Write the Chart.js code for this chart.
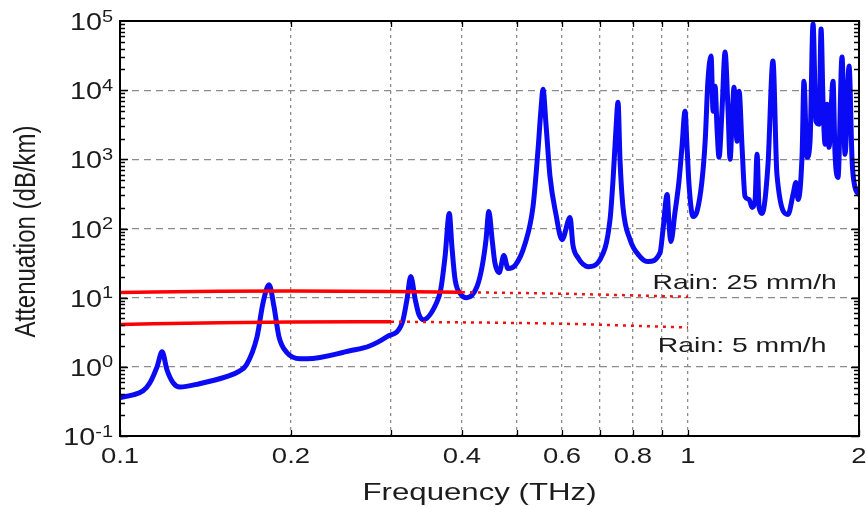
<!DOCTYPE html>
<html>
<head>
<meta charset="utf-8">
<script src="https://cdn.jsdelivr.net/npm/chart.js@4.4.1/dist/chart.umd.min.js"></script>
<style>
  html, body { margin: 0; padding: 0; background: #fff; }
  #wrap { width: 866px; height: 507px; }
</style>
</head>
<body>
<div id="wrap"><canvas id="myChart" width="866" height="507"></canvas></div>
<script>
"use strict";
{
    // atmospheric attenuation (THz, dB/km)
    const freqTHz = [
        0.1, 0.105, 0.1098, 0.1129, 0.1162, 0.1186, 0.121, 0.124, 0.1275, 0.138, 0.154,
        0.162, 0.167, 0.1743, 0.1786, 0.183, 0.1867, 0.1905, 0.1968, 0.2075, 0.2135, 0.254,
        0.275, 0.295, 0.314, 0.320, 0.325, 0.331, 0.336, 0.342, 0.361, 0.367,
        0.3735, 0.380, 0.384, 0.389, 0.3985, 0.408, 0.425, 0.434, 0.441, 0.446,
        0.452, 0.457, 0.465, 0.474, 0.482, 0.496, 0.516, 0.5335, 0.5445, 0.551,
        0.5555, 0.5623, 0.5715, 0.5855, 0.600, 0.620, 0.627, 0.640, 0.667, 0.700,
        0.729, 0.738, 0.7467, 0.753, 0.759, 0.768, 0.7905, 0.823, 0.8506, 0.893,
        0.9036, 0.919, 0.926, 0.933, 0.9485, 0.964, 0.976, 0.988, 0.996, 1.004,
        1.0205, 1.037, 1.058, 1.072, 1.084, 1.098, 1.107, 1.116, 1.125, 1.134,
        1.148, 1.162, 1.176, 1.186, 1.196, 1.205, 1.220, 1.230, 1.245, 1.260,
        1.281, 1.297, 1.312, 1.323, 1.334, 1.350, 1.383, 1.411, 1.434, 1.500,
        1.531, 1.549, 1.562, 1.588, 1.600, 1.620, 1.640, 1.660, 1.680, 1.701,
        1.715, 1.729, 1.743, 1.757, 1.771, 1.800, 1.815, 1.837, 1.867, 1.890,
        1.921, 1.945, 1.968, 2.0
    ];
    const attenDbKm = [
        0.36, 0.39, 0.45, 0.59, 1.0, 1.65, 0.9, 0.59, 0.51, 0.57, 0.72,
        0.86, 1.07, 2.72, 8.47, 15.4, 7.4, 2.72, 1.6, 1.31, 1.31, 1.71,
        2.0, 2.72, 4.34, 9.35, 20.2, 9.35, 5.67, 4.8, 8.5, 13.1,
        39.3, 165, 54.8, 18.2, 11.1, 10, 14.4, 28.1, 69.3, 176,
        69.3, 32.2, 23, 40.6, 26.3, 29.1, 58.6, 208, 1400, 5300,
        10300, 3220, 567, 160, 69, 144, 58.6, 38, 28.1, 35.5,
        135, 513, 2720, 6700, 1000, 208, 69.3, 39.3, 33.2, 44.9,
        96.8, 311, 114, 64.8, 171, 480, 1540, 4960, 1540, 434,
        149, 176, 480, 1820, 13500, 31100, 4960, 11400, 2720, 1070,
        5300, 35500, 5300, 1000, 3800, 11000, 1820, 9680, 1490, 291,
        263, 202, 246, 1180, 202, 165, 847, 26300, 606, 160,
        311, 464, 263, 1180, 13500, 1070, 1820, 90500, 3550, 3220,
        76500, 6270, 1650, 6270, 1490, 13500, 1180, 548, 30100, 1180,
        22300, 935, 393, 311
    ];

    // rain attenuation
    const rain25Freq = [0.1, 0.15, 0.2, 0.3, 0.4];
    const rain25Solid = [11.9, 12.4, 12.5, 12.3, 12.0];
    const rain25DotFreq = [0.4, 0.6, 1.0];
    const rain25Dot = [12.0, 11.4, 10.3];
    const rain5Freq = [0.1, 0.15, 0.2, 0.3];
    const rain5Solid = [4.1, 4.35, 4.45, 4.5];
    const rain5DotFreq = [0.3, 0.6, 1.0];
    const rain5Dot = [4.5, 4.2, 3.7];

    // axes
    const xTickVals = [0.1, 0.2, 0.3, 0.4, 0.5, 0.6, 0.7, 0.8, 0.9, 1, 2];
    const xLabelVals = [0.1, 0.2, 0.4, 0.6, 0.8, 1, 2];
    const xLabels = ['0.1', '0.2', '0.4', '0.6', '0.8', '1', '2'];
    const yExponents = [-1, 0, 1, 2, 3, 4, 5];

    const FONT = "'Liberation Sans', Arial, Helvetica, sans-serif";
    const GRID = '#8c8c8c';

    const toPts = (xs, ys) => xs.map((x, i) => ({ x: x, y: ys[i] }));

    function stretchText(ctx, text, px, py, sx, align) {
        ctx.save();
        ctx.translate(px, py);
        ctx.scale(sx, 1);
        ctx.textAlign = align;
        ctx.textBaseline = 'alphabetic';
        ctx.fillText(text, 0, 0);
        ctx.restore();
    }

    const axesPlugin = {
        id: 'matlabAxes',
        afterDraw(chart) {
            const ctx = chart.ctx;
            const a = chart.chartArea;
            const xs = chart.scales.x;
            const ys = chart.scales.y;
            ctx.save();

            // box
            ctx.strokeStyle = '#000';
            ctx.lineWidth = 2;
            ctx.strokeRect(a.left, a.top, a.right - a.left, a.bottom - a.top);

            // tick marks
            ctx.lineWidth = 1.3;
            ctx.beginPath();
            for (let d = -1; d < 5; d++) {
                for (let m = 1; m < 10; m++) {
                    const py = Math.round(ys.getPixelForValue(m * Math.pow(10, d))) + 0.5;
                    const len = m === 1 ? 8 : 5;
                    ctx.moveTo(a.left, py); ctx.lineTo(a.left + len, py);
                    ctx.moveTo(a.right, py); ctx.lineTo(a.right - len, py);
                }
            }
            xTickVals.forEach(v => {
                const px = Math.round(xs.getPixelForValue(v)) + 0.5;
                ctx.moveTo(px, a.bottom); ctx.lineTo(px, a.bottom - 6);
                ctx.moveTo(px, a.top); ctx.lineTo(px, a.top + 6);
            });
            ctx.stroke();

            ctx.fillStyle = '#1c1c1c';

            // x tick labels
            ctx.font = '22px ' + FONT;
            xLabelVals.forEach((v, i) => {
                stretchText(ctx, xLabels[i], xs.getPixelForValue(v), a.bottom + 27, 1.25, 'center');
            });

            // y tick labels 10^n
            const sx = 1.25;
            yExponents.forEach(n => {
                const py = ys.getPixelForValue(Math.pow(10, n));
                const ex = String(n);
                ctx.font = '23px ' + FONT;
                const wMain = ctx.measureText('10').width * sx;
                ctx.font = '16px ' + FONT;
                const wExp = ctx.measureText(ex).width * sx;
                const start = a.left - 7 - wMain - wExp;
                ctx.font = '23px ' + FONT;
                stretchText(ctx, '10', start, py + 9, sx, 'left');
                ctx.font = '16px ' + FONT;
                stretchText(ctx, ex, start + wMain, py + 0.5, sx, 'left');
            });

            // axis titles
            ctx.font = '24px ' + FONT;
            stretchText(ctx, 'Frequency (THz)', (a.left + a.right) / 2 - 10, a.bottom + 64, 1.3, 'center');
            ctx.save();
            ctx.translate(35, (a.top + a.bottom) / 2 + 3);
            ctx.rotate(-Math.PI / 2);
            ctx.scale(1, 1.25);
            ctx.textAlign = 'center';
            ctx.textBaseline = 'alphabetic';
            ctx.fillText('Attenuation (dB/km)', 0, 0);
            ctx.restore();

            // annotations
            ctx.font = '21px ' + FONT;
            stretchText(ctx, 'Rain: 25 mm/h', xs.getPixelForValue(0.866), ys.getPixelForValue(13.5), 1.35, 'left');
            stretchText(ctx, 'Rain: 5 mm/h', xs.getPixelForValue(0.885), ys.getPixelForValue(1.65), 1.35, 'left');

            ctx.restore();
        }
    };

    function gridColor(ends) {
        return c => (c.tick && ends.includes(c.tick.value)) ? 'rgba(0,0,0,0)' : GRID;
    }

    window.addEventListener('load', function () {
        const ctx = document.getElementById('myChart');
        const config = {
            type: 'line',
            data: {
                datasets: [{
                    label: 'Rain 25 mm/h',
                    data: toPts(rain25Freq, rain25Solid),
                    borderColor: '#ff0000',
                    borderWidth: 3.5,
                    pointRadius: 0,
                    cubicInterpolationMode: 'monotone'
                }, {
                    label: 'Rain 25 mm/h (extrapolated)',
                    data: toPts(rain25DotFreq, rain25Dot),
                    borderColor: '#f01010',
                    borderWidth: 2.5,
                    borderDash: [3, 5],
                    pointRadius: 0,
                    cubicInterpolationMode: 'monotone'
                }, {
                    label: 'Rain 5 mm/h',
                    data: toPts(rain5Freq, rain5Solid),
                    borderColor: '#ff0000',
                    borderWidth: 3.5,
                    pointRadius: 0,
                    cubicInterpolationMode: 'monotone'
                }, {
                    label: 'Rain 5 mm/h (extrapolated)',
                    data: toPts(rain5DotFreq, rain5Dot),
                    borderColor: '#f01010',
                    borderWidth: 2.5,
                    borderDash: [3, 5],
                    pointRadius: 0,
                    cubicInterpolationMode: 'monotone'
                }, {
                    label: 'Atmosphere',
                    data: toPts(freqTHz, attenDbKm),
                    borderColor: '#0a0af5',
                    borderWidth: 5,
                    pointRadius: 0,
                    borderJoinStyle: 'round',
                    borderCapStyle: 'round',
                    cubicInterpolationMode: 'monotone'
                }]
            },
            options: {
                responsive: false,
                animation: false,
                layout: { padding: { left: 120, right: 7, top: 21, bottom: 71 } },
                plugins: {
                    legend: { display: false },
                    tooltip: { enabled: false }
                },
                scales: {
                    x: {
                        type: 'logarithmic',
                        min: 0.1,
                        max: 2,
                        afterBuildTicks: s => { s.ticks = xTickVals.map(v => ({ value: v })); },
                        ticks: { display: false },
                        grid: { color: gridColor([0.1, 2]), lineWidth: 1.3, drawTicks: false },
                        border: { display: false, dash: [3, 4] }
                    },
                    y: {
                        type: 'logarithmic',
                        min: 0.1,
                        max: 100000,
                        afterBuildTicks: s => { s.ticks = yExponents.map(n => ({ value: Math.pow(10, n) })); },
                        ticks: { display: false },
                        grid: { color: gridColor([0.1, 100000]), lineWidth: 1.3, drawTicks: false },
                        border: { display: false, dash: [7, 5] }
                    }
                }
            },
            plugins: [axesPlugin]
        };
        new Chart(ctx, config);
    });
}
</script>
</body>
</html>
